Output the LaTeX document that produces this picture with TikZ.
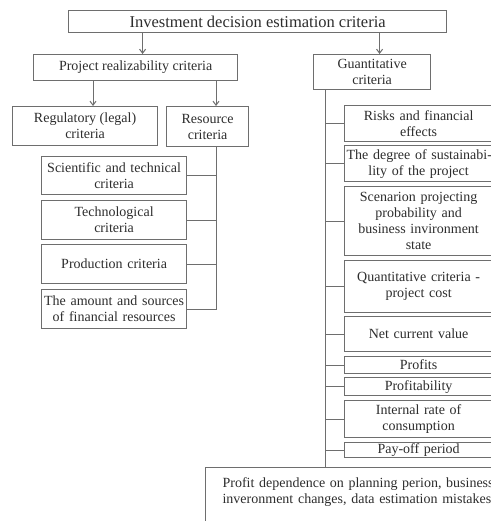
\documentclass[tikz,border=0pt]{standalone}
\usepackage{fontspec}
\setmainfont{Liberation Serif}
\definecolor{linegray}{RGB}{110, 110, 110}
\definecolor{textgray}{RGB}{45, 45, 45}
\usetikzlibrary{arrows.meta, positioning, calc}

\begin{document}
\begin{tikzpicture}[
    x=1pt, y=-1pt,
    box/.style={draw=linegray, line width=1.2pt, anchor=north west, inner sep=1pt,
                align=center, text=textgray, font=\fontsize{14}{16}\selectfont},
    arr/.style={-{Straight Barb[length=4pt, width=6pt]}, line width=1pt, linegray},
    branch/.style={line width=1pt, linegray}
]
    \useasboundingbox[fill=white] (0,0) rectangle (490,521);

    % top level
    \node[box, minimum width=378, minimum height=22, font=\fontsize{16.5}{18}\selectfont] (top) at (68,10)
        {Investment decision estimation criteria};
    \node[box, minimum width=204, minimum height=26] (prc) at (33,54) {Project realizability criteria};
    \node[box, minimum width=117, minimum height=35] (guant) at (313,54) {Guantitative\\criteria};

    % left side
    \node[box, minimum width=145, minimum height=39] (reg) at (12,106) {Regulatory (legal)\\criteria};
    \node[box, minimum width=82, minimum height=40] (res) at (166,106) {Resource\\criteria};
    \node[box, minimum width=145, minimum height=38, text width=141] (sci) at (41,156) {Scientific and technical\\criteria};
    \node[box, minimum width=145, minimum height=39, text width=141] (tech) at (41,200) {Technological\\criteria};
    \node[box, minimum width=145, minimum height=39, text width=141] (prod) at (41,244) {Production criteria};
    \node[box, minimum width=145, minimum height=39, text width=141] (amount) at (41,289) {The amount and sources\\of financial resources};

    % right side
    \node[box, minimum width=148, minimum height=36, text width=144] (risks) at (344,105) {Risks and financial\\effects};
    \node[box, minimum width=148, minimum height=36, text width=144] (degree) at (344,145)
        {\mbox{The degree of sustainabi-}\\lity of the project};
    \node[box, minimum width=148, minimum height=69, text width=144] (scen) at (344,186)
        {Scenarion projecting\\probability and\\business invironment\\state};
    \node[box, minimum width=148, minimum height=52, text width=144] (qcost) at (344,260) {Quantitative criteria -\\project cost};
    \node[box, minimum width=148, minimum height=35, text width=144] (npv) at (344,316) {Net current value};
    \node[box, minimum width=148, minimum height=17, text width=144] (profits) at (344,356) {Profits};
    \node[box, minimum width=148, minimum height=18, text width=144] (profitab) at (344,377) {Profitability};
    \node[box, minimum width=148, minimum height=37, text width=144] (irr) at (344,400) {Internal rate of\\consumption};
    \node[box, minimum width=148, minimum height=15, text width=144] (payoff) at (344,442) {Pay-off period};

    % bottom
    \node[box, align=left, text width=300, inner xsep=17pt, inner ysep=10pt] (bottom) at (205,467)
        {Profit dependence on planning perion, business\\inveronment changes, data estimation mistakes\\ \mbox{}};

    % arrows
    \coordinate (a1) at ([xshift=7]prc.north);
    \coordinate (a2) at ([xshift=7.5]guant.north);
    \coordinate (a3) at ([xshift=81]reg.north west);
    \coordinate (a4) at ([xshift=50]res.north west);
    \draw[arr] (a1 |- top.south) -- (a1);
    \draw[arr] (a2 |- top.south) -- (a2);
    \draw[arr] (a3 |- prc.south) -- (a3);
    \draw[arr] (a4 |- prc.south) -- (a4);

    % resource trunk
    \coordinate (rtrunk) at ([xshift=50]res.south west);
    \foreach \n in {sci, tech, prod, amount}
        \draw[branch] (rtrunk) |- (\n.east);

    % quantitative trunk
    \coordinate (qtrunk) at ([xshift=12]guant.south west);
    \draw[branch] (qtrunk) -- (qtrunk |- bottom.north);
    \foreach \n in {risks, degree, scen, qcost, npv, profits, profitab, irr, payoff}
        \draw[branch] (qtrunk |- \n.west) -- (\n.west);
\end{tikzpicture}
\end{document}
